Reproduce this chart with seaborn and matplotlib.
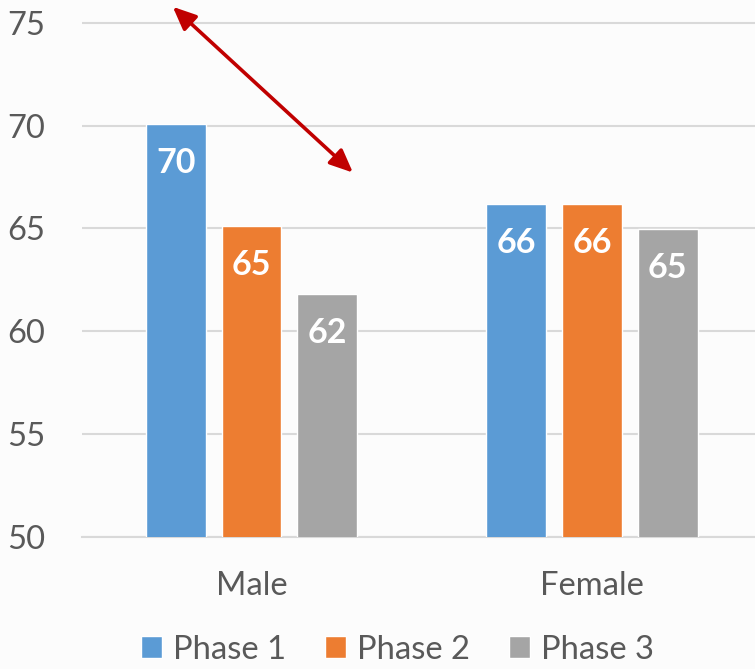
import matplotlib
matplotlib.use("Agg")
import matplotlib.pyplot as plt
import seaborn as sns
import pandas as pd

# Scores by gender across three phases
genders = ["Male", "Female"]
phases = ["Phase 1", "Phase 2", "Phase 3"]
male_scores = [70.08, 65.10, 61.83]
female_scores = [66.20, 66.20, 64.97]
phase_colors = ["#5B9BD5", "#ED7D31", "#A5A5A5"]
y_ticks = [50, 55, 60, 65, 70, 75]

df = pd.DataFrame({
    "Gender": [g for g in genders for _ in phases],
    "Phase": phases * len(genders),
    "Score": male_scores + female_scores,
})

sns.set_theme(style="white")
plt.rcParams["font.family"] = ["Lato", "DejaVu Sans"]

bg = "#FCFCFC"
text_gray = "#595959"
grid_gray = "#D9D9D9"

fig = plt.figure(figsize=(7.55, 6.69), dpi=100, facecolor=bg)
ax = fig.add_axes([81.5 / 755, 132.3 / 669, 1 - 81.5 / 755, 1 - 132.3 / 669])
ax.set_facecolor(bg)

sns.barplot(data=df, x="Gender", y="Score", hue="Phase", order=genders,
            hue_order=phases, palette=phase_colors, width=0.667, gap=0.211,
            saturation=1, errorbar=None, ax=ax, zorder=3)

ax.set_ylim(50, 76.12)
ax.set_xlim(-0.499, 1.4786)
ax.set_yticks(y_ticks)
ax.set_yticklabels([str(v) for v in y_ticks])
ax.yaxis.grid(True, color=grid_gray, linewidth=1.5, zorder=0)
ax.set_axisbelow(True)
for side in ["top", "right", "left"]:
    ax.spines[side].set_visible(False)
ax.spines["bottom"].set_color(grid_gray)
ax.spines["bottom"].set_linewidth(1.5)
ax.tick_params(axis="y", length=0, pad=26, labelsize=23.6, labelcolor=text_gray)
ax.tick_params(axis="x", length=0, pad=25, labelsize=23.6, labelcolor=text_gray)
ax.set_xlabel("")
ax.set_ylabel("")

# White value labels inside the top of each bar
for container in ax.containers:
    labels = ax.bar_label(container, fmt="%.0f", padding=-28, color="white",
                          fontweight="bold", fontsize=24.5)
    for t in labels:
        t.set_va("center")

# Double-headed arrow
ax.annotate("", xy=(0.298, 67.72), xytext=(-0.231, 75.79),
            arrowprops=dict(arrowstyle="<|-|>,head_length=0.5,head_width=0.22",
                            color="#C00000", lw=2.6, mutation_scale=28,
                            shrinkA=0, shrinkB=0),
            annotation_clip=False, zorder=5)

sns.move_legend(ax, "lower center", bbox_to_anchor=(397.5 / 755, -0.018),
                bbox_transform=fig.transFigure, ncol=3, frameon=False,
                title=None, fontsize=23.6, handlelength=0.65, handleheight=0.62,
                handletextpad=0.34, columnspacing=1.17, borderpad=0)
for txt in ax.get_legend().get_texts():
    txt.set_color(text_gray)

fig.savefig("out.png", dpi=100, facecolor=bg)
